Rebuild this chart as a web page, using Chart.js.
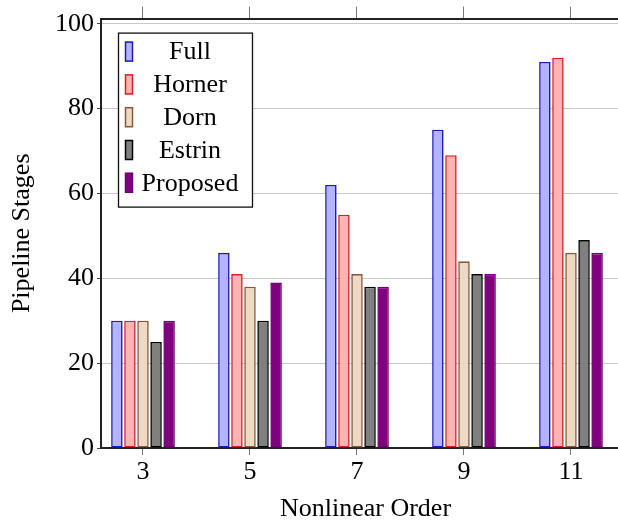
<!DOCTYPE html>
<html>
<head>
<meta charset="utf-8">
<script src="https://cdn.jsdelivr.net/npm/chart.js@4.4.1/dist/chart.umd.min.js"></script>
<style>
    html, body { margin: 0; padding: 0; background: #fff; overflow: hidden; }
</style>
</head>
<body>
<canvas id="stagesChart" width="630" height="525"></canvas>
<script>
// Data
const orders = [3, 5, 7, 9, 11];
const seriesNames = ['Full', 'Horner', 'Dorn', 'Estrin', 'Proposed'];
const fullStages = [30, 46, 62, 75, 91];
const hornerStages = [30, 41, 55, 69, 92];
const dornStages = [30, 38, 41, 44, 46];
const estrinStages = [25, 30, 38, 41, 49];
const proposedStages = [30, 39, 38, 41, 46];
const yTickValues = [0, 20, 40, 60, 80, 100];

const fillColors = ['#b3b3ff', '#ffb3b3', '#eed9c4', '#808080', '#800080'];
const edgeColors = ['#1a1ab8', '#d42020', '#85583a', '#000000', '#700070'];
const allSeries = [fullStages, hornerStages, dornStages, estrinStages, proposedStages];

Chart.defaults.font.family = '"Liberation Serif", "DejaVu Serif", serif';
Chart.defaults.color = '#000';

const font = { size: 26 };
const xMin = 2.215, xMax = 12.103;

// pgfplots style legend box inside the plot area, top left
const legendBox = {
    id: 'legendBox',
    afterDraw(chart) {
        const ctx = chart.ctx;
        const left = chart.chartArea.left + 17;
        const top = chart.chartArea.top + 14;
        ctx.save();
        ctx.fillStyle = '#fff';
        ctx.fillRect(left, top, 134, 174);
        ctx.strokeStyle = '#111';
        ctx.lineWidth = 1.3;
        ctx.strokeRect(left + 0.5, top + 0.5, 134, 174);
        ctx.font = '26px "Liberation Serif", serif';
        ctx.textAlign = 'center';
        ctx.textBaseline = 'middle';
        chart.data.datasets.forEach((ds, i) => {
            const cy = top + 19 + i * 32.8;
            ctx.fillStyle = ds.backgroundColor;
            ctx.fillRect(left + 7, cy - 10, 8, 20);
            ctx.strokeStyle = ds.borderColor;
            ctx.lineWidth = 1.5;
            ctx.strokeRect(left + 7.5, cy - 9.5, 7, 19);
            ctx.fillStyle = '#000';
            ctx.fillText(ds.label, left + 72, cy + 1);
        });
        ctx.restore();
    }
};

const ctx = document.getElementById('stagesChart').getContext('2d');
const stagesChart = new Chart(ctx, {
    type: 'bar',
    data: {
        datasets: seriesNames.map((name, i) => ({
            label: name,
            data: orders.map((o, j) => ({ x: o, y: allSeries[i][j] })),
            backgroundColor: fillColors[i],
            borderColor: edgeColors[i],
            borderWidth: 1.6,
            borderSkipped: false,
            categoryPercentage: 0.61,
            barPercentage: 0.88
        }))
    },
    options: {
        responsive: false,
        animation: false,
        layout: { padding: 0 },
        plugins: {
            legend: { display: false },
            tooltip: { enabled: false }
        },
        scales: {
            x: {
                type: 'linear',
                position: 'bottom',
                offset: false,
                min: xMin,
                max: xMax,
                afterBuildTicks: s => { s.ticks = orders.map(v => ({ value: v })); },
                afterFit: s => { s.height = 77; },
                grid: { offset: false, drawOnChartArea: false, tickLength: 7, tickColor: '#777', color: '#777' },
                border: { color: '#222', width: 2 },
                ticks: { font: font, padding: 2, maxRotation: 0, autoSkip: false },
                title: { display: true, text: 'Nonlinear Order', font: font, padding: { top: 0, bottom: 0 } }
            },
            xTop: {
                type: 'linear',
                position: 'top',
                offset: false,
                min: xMin,
                max: xMax,
                afterBuildTicks: s => { s.ticks = orders.map(v => ({ value: v })); },
                afterFit: s => { s.height = 15; },
                grid: { offset: false, drawOnChartArea: false, tickLength: 12, tickColor: '#777', color: '#777' },
                border: { color: '#222', width: 2 },
                ticks: { display: false }
            },
            y: {
                min: 0,
                max: 101.2,
                afterBuildTicks: s => { s.ticks = yTickValues.map(v => ({ value: v })); },
                afterFit: s => { s.width = 101; },
                grid: { color: '#c8c8c8', lineWidth: 1, tickLength: 4, tickColor: '#444' },
                border: { color: '#222', width: 2 },
                ticks: { font: font, padding: 3 },
                title: { display: true, text: 'Pipeline Stages', font: font, padding: { top: 7, bottom: 0 } }
            }
        }
    },
    plugins: [legendBox]
});
</script>
</body>
</html>
